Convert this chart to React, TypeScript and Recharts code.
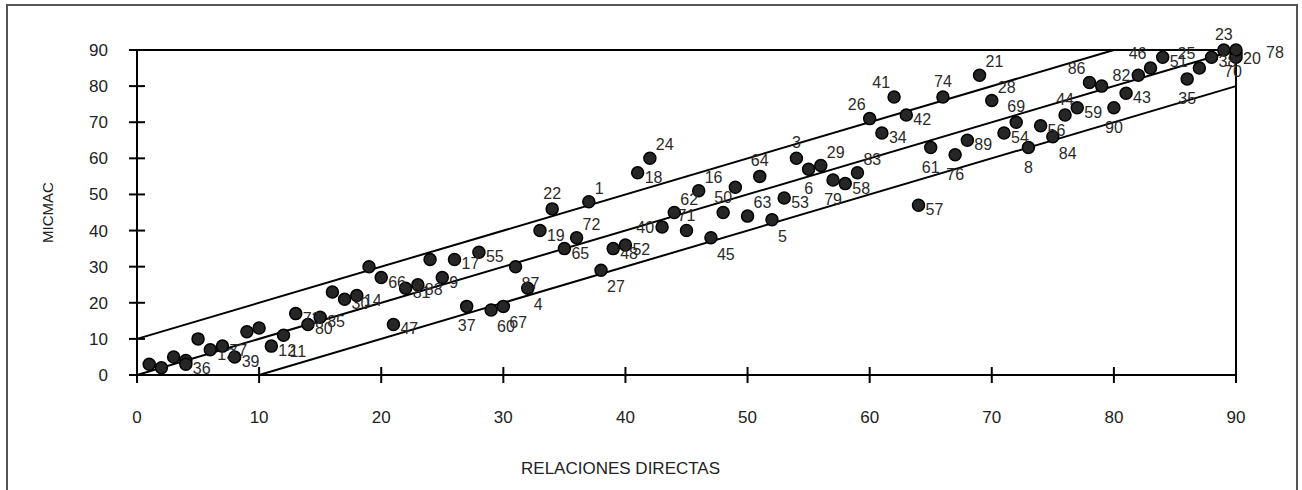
import React from 'react';
import { ScatterChart, Scatter, XAxis, YAxis, ReferenceLine, LabelList } from 'recharts';

// Relaciones directas (x) and MICMAC (y) values with variable numbers
const directas = [1, 2, 3, 4, 4, 5, 6, 7, 8, 9, 10, 11, 12, 13, 14, 15, 16, 17, 18, 19, 20, 21, 22, 23, 24, 25, 26, 28, 31, 32, 27, 29, 30, 33, 34, 37, 35, 36, 39, 40, 38, 41, 42, 43, 44, 45, 46, 47, 48, 49, 50, 51, 52, 53, 54, 55, 56, 57, 58, 59, 60, 61, 62, 63, 64, 65, 66, 67, 68, 69, 70, 71, 72, 73, 74, 75, 76, 77, 78, 79, 80, 81, 82, 83, 84, 86, 87, 88, 89, 90, 90, 90];
const micmac = [3, 2, 5, 4, 3, 10, 7, 8, 5, 12, 13, 8, 11, 17, 14, 16, 23, 21, 22, 30, 27, 14, 24, 25, 32, 27, 32, 34, 30, 24, 19, 18, 19, 40, 46, 48, 35, 38, 35, 36, 29, 56, 60, 41, 45, 40, 51, 38, 45, 52, 44, 55, 43, 49, 60, 57, 58, 54, 53, 56, 71, 67, 77, 72, 47, 63, 77, 61, 65, 83, 76, 67, 70, 63, 69, 66, 72, 74, 81, 80, 74, 78, 83, 85, 88, 82, 85, 88, 90, 89, 88, 90];
const etiquetas = ['', '', '', '', '36', '', '13', '77', '39', '', '', '12', '11', '73', '80', '85', '', '30', '14', '', '66', '47', '81', '88', '', '9', '17', '55', '87', '4', '37', '60', '67', '19', '22', '1', '65', '72', '48', '52', '27', '18', '24', '40', '62', '71', '16', '45', '50', '', '63', '64', '5', '53', '3', '6', '29', '79', '58', '83', '26', '34', '41', '42', '57', '61', '74', '76', '89', '21', '28', '54', '69', '8', '56', '84', '44', '59', '86', '', '90', '43', '82', '46', '51', '35', '25', '38', '23', '20', '70', '78'];

const axisTicks = [0, 10, 20, 30, 40, 50, 60, 70, 80, 90];

// Reference lines (MICMAC = directas + 10, = directas, = directas - 10)
const lineaSuperior = [{ x: 0, y: 10 }, { x: 80, y: 90 }];
const lineaCentral = [{ x: 0, y: 0 }, { x: 90, y: 90 }];
const lineaInferior = [{ x: 10, y: 0 }, { x: 90, y: 80 }];

const data = directas.map((x, i) => ({ x, y: micmac[i], label: etiquetas[i] }));

// presentational: where each number label sits relative to its dot (default: right)
const labelPlacement: Record<string, string> = {
  '23': 'top', '3': 'top', '64': 'top', '69': 'top', '44': 'top', '71': 'top', '50': 'top', '74': 'top', '22': 'top',
  '1': 'topright', '24': 'topright', '21': 'topright', '28': 'topright', '16': 'topright', '62': 'topright', '29': 'topright', '72': 'topright', '63': 'topright', '83': 'topright',
  '26': 'topleft', '41': 'topleft', '25': 'topleft', '86': 'topleft', '46': 'topleft',
  '82': 'left', '40': 'left',
  '8': 'below', '61': 'below', '76': 'below', '37': 'below', '35': 'below', '90': 'below', '6': 'below', '79': 'below',
  '70': 'belowleft',
  '5': 'belowright', '84': 'belowright', '45': 'belowright', '27': 'belowright', '60': 'belowright', '67': 'belowright', '4': 'belowright', '87': 'belowright', '11': 'belowright',
  '78': 'farright',
};

const FONT = '"Liberation Sans", Arial, Helvetica, sans-serif';

const XTick = (props: any) => {
  const { x, y, payload } = props;
  return (
    <g>
      <line x1={x} x2={x} y1={y - 8} y2={y + 8} stroke="#000" strokeWidth={2} />
      <text x={x} y={y + 48} textAnchor="middle" fontSize={17} fontFamily={FONT} fill="#222">
        {payload.value}
      </text>
    </g>
  );
};

const YTick = (props: any) => {
  const { x, y, payload } = props;
  return (
    <g>
      <line x1={x - 8} x2={x + 8} y1={y} y2={y} stroke="#000" strokeWidth={2} />
      <text x={x - 29} y={y + 6} textAnchor="end" fontSize={17} fontFamily={FONT} fill="#222">
        {payload.value}
      </text>
    </g>
  );
};

const Dot = (props: any) => {
  const { cx, cy } = props;
  return <circle cx={cx} cy={cy} r={6} fill="#262626" stroke="#000" strokeWidth={1.5} />;
};

const PointLabel = (props: any) => {
  const { x, y, width, height, value } = props;
  if (!value) return null;
  const cx = x + (width || 0) / 2;
  const cy = y + (height || 0) / 2;
  const place = labelPlacement[value] || 'right';
  let tx = cx + 7;
  let ty = cy + 10;
  let anchor: 'start' | 'middle' | 'end' = 'start';
  switch (place) {
    case 'top': tx = cx; ty = cy - 10; anchor = 'middle'; break;
    case 'topright': tx = cx + 6; ty = cy - 8; break;
    case 'topleft': tx = cx - 4; ty = cy - 9; anchor = 'end'; break;
    case 'left': tx = cx - 8; ty = cy + 6; anchor = 'end'; break;
    case 'below': tx = cx; ty = cy + 25; anchor = 'middle'; break;
    case 'belowright': tx = cx + 6; ty = cy + 22; break;
    case 'belowleft': tx = cx - 12; ty = cy + 20; break;
    case 'farright': tx = cx + 30; ty = cy + 8; break;
    default: break;
  }
  return (
    <text x={tx} y={ty} textAnchor={anchor} fontSize={16} fontFamily={FONT} fill="#2a2a2a">
      {value}
    </text>
  );
};

export default function App() {
  return (
    <div style={{ position: 'absolute', left: 0, top: 0, width: 1302, height: 490, overflow: 'hidden', background: '#fff' }}>
      <div style={{ position: 'absolute', left: 0, top: 0 }}>
        <ScatterChart width={1302} height={490} margin={{ top: 50, right: 66, bottom: 55, left: 77 }}>
          <XAxis
            type="number"
            dataKey="x"
            domain={[0, 90]}
            ticks={axisTicks}
            interval={0}
            height={60}
            tickSize={0}
            tickMargin={0}
            tickLine={false}
            axisLine={{ stroke: '#000', strokeWidth: 2 }}
            tick={<XTick />}
            label={{
              content: (p: any) => {
                const vb = p.viewBox;
                return (
                  <text x={vb.x + vb.width * 0.44} y={vb.y + 99} textAnchor="middle" fontSize={17} fontFamily={FONT} fill="#222">
                    RELACIONES DIRECTAS
                  </text>
                );
              },
            }}
          />
          <YAxis
            type="number"
            dataKey="y"
            domain={[0, 90]}
            ticks={axisTicks}
            interval={0}
            width={60}
            tickSize={0}
            tickMargin={0}
            tickLine={false}
            axisLine={{ stroke: '#000', strokeWidth: 2 }}
            tick={<YTick />}
            label={{
              content: (p: any) => {
                const vb = p.viewBox;
                const cx = vb.x - 30;
                const cy = vb.y + vb.height / 2;
                return (
                  <text x={cx} y={cy} transform={`rotate(-90 ${cx} ${cy})`} textAnchor="middle" dominantBaseline="central" fontSize={15} fontFamily={FONT} fill="#222">
                    MICMAC
                  </text>
                );
              },
            }}
          />
          <ReferenceLine y={90} stroke="#000" strokeWidth={2} />
          <ReferenceLine x={90} stroke="#000" strokeWidth={2} />
          <ReferenceLine segment={lineaSuperior} stroke="#000" strokeWidth={2} />
          <ReferenceLine segment={lineaCentral} stroke="#000" strokeWidth={2} />
          <ReferenceLine segment={lineaInferior} stroke="#000" strokeWidth={2} />
          <Scatter data={data} shape={<Dot />} isAnimationActive={false}>
            <LabelList dataKey="label" content={<PointLabel />} />
          </Scatter>
        </ScatterChart>
      </div>
      <div
        style={{
          position: 'absolute',
          left: 6,
          top: 4,
          width: 1292,
          height: 540,
          borderTop: '2px solid #555',
          borderLeft: '2px solid #555',
          borderRight: '2px solid #555',
          boxSizing: 'border-box',
          pointerEvents: 'none',
        }}
      />
    </div>
  );
}
